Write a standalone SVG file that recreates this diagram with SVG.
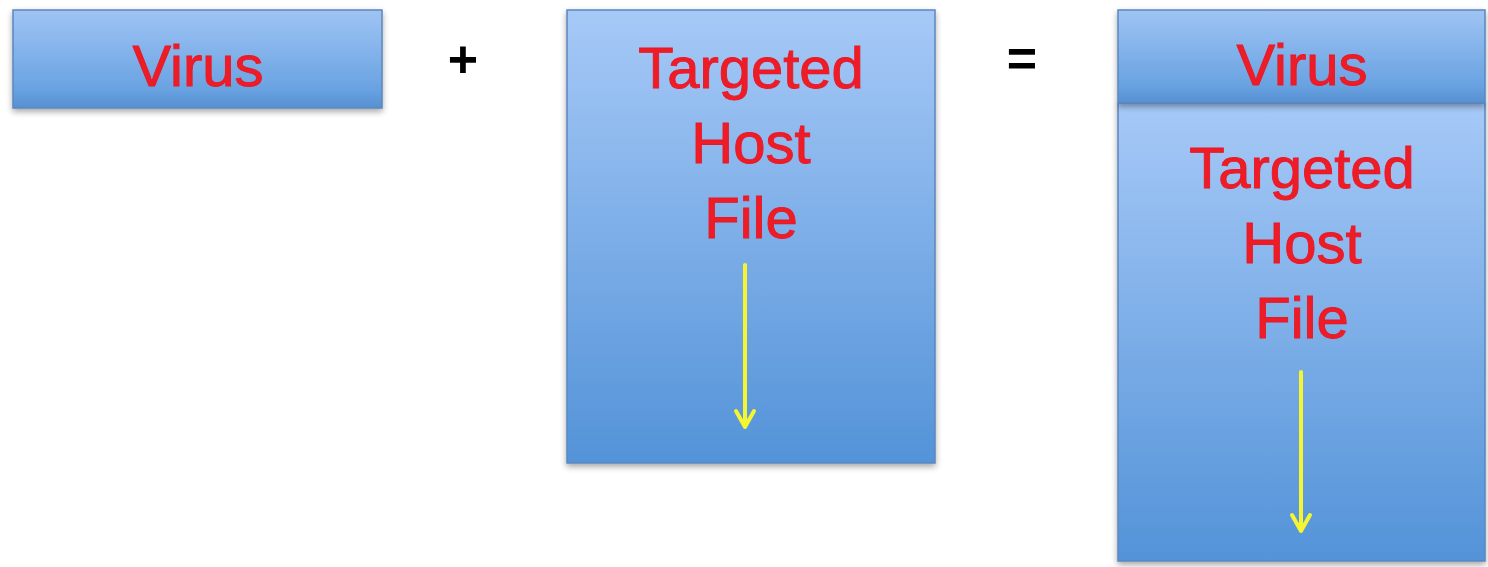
<svg xmlns="http://www.w3.org/2000/svg" width="1488" height="567" viewBox="0 0 1488 567">
<style>
.lbl{font-family:"Liberation Sans",Arial,sans-serif;font-size:58px;fill:#ee1c25;stroke:#e8182a;stroke-width:0.9;text-anchor:middle}
.op{font-family:"Liberation Sans",Arial,sans-serif;font-size:52px;font-weight:bold;fill:#000;text-anchor:middle}
.box{stroke:#5b87be;stroke-width:1.5;filter:url(#sh)}
</style>
<defs>
<linearGradient id="g" x1="0" y1="0" x2="0" y2="1">
<stop offset="0" stop-color="#a6c9f7"/>
<stop offset="1" stop-color="#5393d8"/>
</linearGradient>
<linearGradient id="gh" x1="0" y1="0" x2="0" y2="1">
<stop offset="0" stop-color="#9fc4f4"/>
<stop offset="0.8" stop-color="#6aa3e2"/>
<stop offset="1" stop-color="#5690d2"/>
</linearGradient>
<filter id="sh" x="-10%" y="-10%" width="120%" height="120%">
<feGaussianBlur in="SourceAlpha" stdDeviation="3"/>
<feOffset dx="0" dy="3" result="b"/>
<feComponentTransfer><feFuncA type="linear" slope="0.35"/></feComponentTransfer>
<feMerge><feMergeNode/><feMergeNode in="SourceGraphic"/></feMerge>
</filter>
</defs>
<g id="virus">
<rect class="box" x="13" y="10" width="369" height="98" fill="url(#gh)"/>
<text class="lbl" x="198" y="86">Virus</text>
</g>
<g id="plus"><text class="op" x="463" y="77">+</text></g>
<g id="host">
<rect class="box" x="567" y="10" width="368" height="453" fill="url(#g)"/>
<text class="lbl" x="751" y="88">Targeted</text>
<text class="lbl" x="751" y="163">Host</text>
<text class="lbl" x="751" y="238">File</text>
</g>
<g id="equals"><text class="op" x="1022" y="76">=</text></g>
<g id="result">
<rect class="box" x="1118" y="103" width="367" height="458" fill="url(#g)"/>
<rect class="box" x="1118" y="10" width="367" height="93" fill="url(#gh)"/>
<text class="lbl" x="1302" y="85">Virus</text>
<text class="lbl" x="1302" y="188">Targeted</text>
<text class="lbl" x="1302" y="263">Host</text>
<text class="lbl" x="1302" y="338">File</text>
</g>
<g id="connectors" stroke="#f5f531" stroke-width="4" fill="none" stroke-linecap="round" stroke-linejoin="round">
<line x1="745" y1="265" x2="745" y2="426"/>
<polyline points="736,411 745,427 754,411"/>
<line x1="1301" y1="372" x2="1301" y2="530"/>
<polyline points="1292,515 1301,531 1310,515"/>
</g>
</svg>
